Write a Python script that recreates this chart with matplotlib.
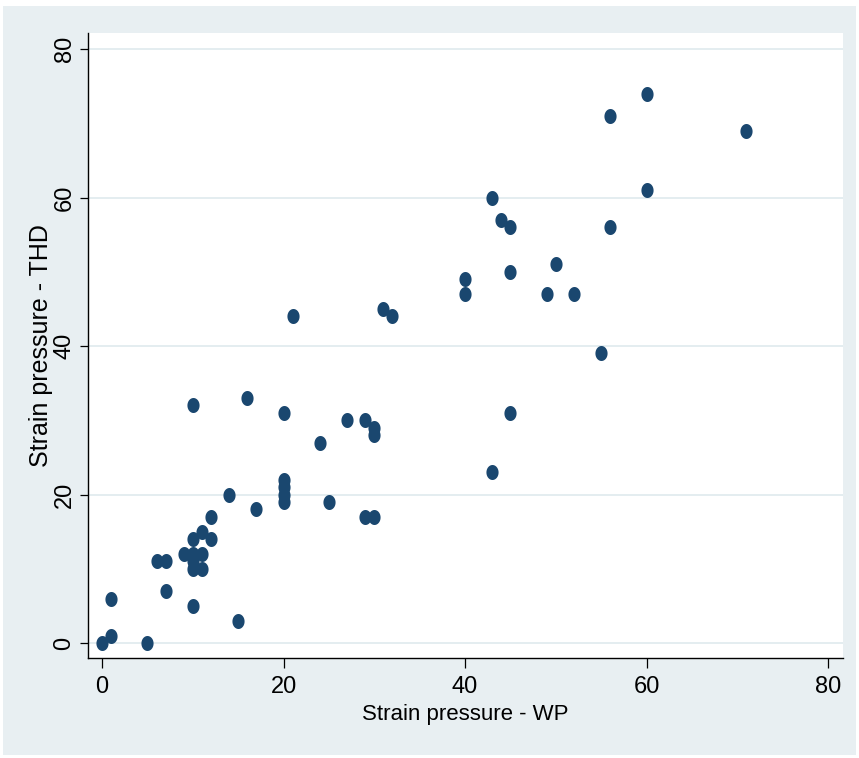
import matplotlib
matplotlib.use("Agg")
import matplotlib.pyplot as plt
import numpy as np
from matplotlib.path import Path
from matplotlib.patches import Rectangle

# strain pressure scores, one pair per respondent
wp = [0, 1, 1, 5, 6, 7, 7, 9, 10, 11, 10, 10, 11, 10, 10, 11, 12, 12, 14, 15,
      16, 17, 10, 20, 20, 20, 20, 20, 21, 24, 25, 27, 29, 29, 30, 30, 30, 31,
      32, 40, 40, 43, 43, 44, 45, 45, 45, 49, 50, 52, 55, 56, 56, 60, 60, 71]
thd = [0, 1, 6, 0, 11, 11, 7, 12, 12, 12, 11, 10, 10, 5, 14, 15, 14, 17, 20, 3,
       33, 18, 32, 31, 22, 21, 20, 19, 44, 27, 19, 30, 30, 17, 29, 28, 17, 45,
       44, 49, 47, 60, 23, 57, 56, 50, 31, 47, 51, 47, 39, 71, 56, 74, 61, 69]
ticks = [0, 20, 40, 60, 80]

navy = "#1a476f"
panel = "#e8eff2"
grid = "#e2ecef"
font = "Liberation Sans"

fig = plt.figure(figsize=(8.59, 7.58), dpi=100, facecolor="white")
W, H = 859, 758
fig.patches.append(Rectangle((3 / W, 3 / H), 853 / W, 749 / H,
                             transform=fig.transFigure, facecolor=panel,
                             edgecolor="none", zorder=-10))

ax = fig.add_axes([88 / W, 100 / H, 755 / W, 625 / H])
ax.set_facecolor("white")

# slightly tall oval marker
t = np.linspace(0, 2 * np.pi, 60)
oval = Path(np.column_stack([0.81 * np.cos(t), np.sin(t)]), closed=True)

ax.plot(wp, thd, linestyle="none", marker=oval, markersize=10.8,
        color=navy, markeredgewidth=0, zorder=3)

ax.set_xlim(-1.55, 81.65)
ax.set_ylim(-2.0, 82.15)
ax.set_xticks(ticks)
ax.set_yticks(ticks)
ax.yaxis.grid(True, color=grid, linewidth=1.3)
ax.set_axisbelow(True)

for s in ("top", "right"):
    ax.spines[s].set_visible(False)
for s in ("left", "bottom"):
    ax.spines[s].set_linewidth(1.0)

ax.tick_params(axis="x", length=7, width=0.9, pad=6, labelsize=17)
ax.tick_params(axis="y", length=6, width=0.9, pad=3, labelsize=17)
for lab in ax.get_xticklabels():
    lab.set_fontfamily(font)
for lab in ax.get_yticklabels():
    lab.set_fontfamily(font)
    lab.set_rotation(90)
    lab.set_verticalalignment("center")

ax.set_xlabel("Strain pressure - WP", fontsize=16, fontfamily=font, labelpad=4)
ax.set_ylabel("Strain pressure - THD", fontsize=18, fontfamily=font, labelpad=0)

fig.savefig("out.png", dpi=100, facecolor="white")
